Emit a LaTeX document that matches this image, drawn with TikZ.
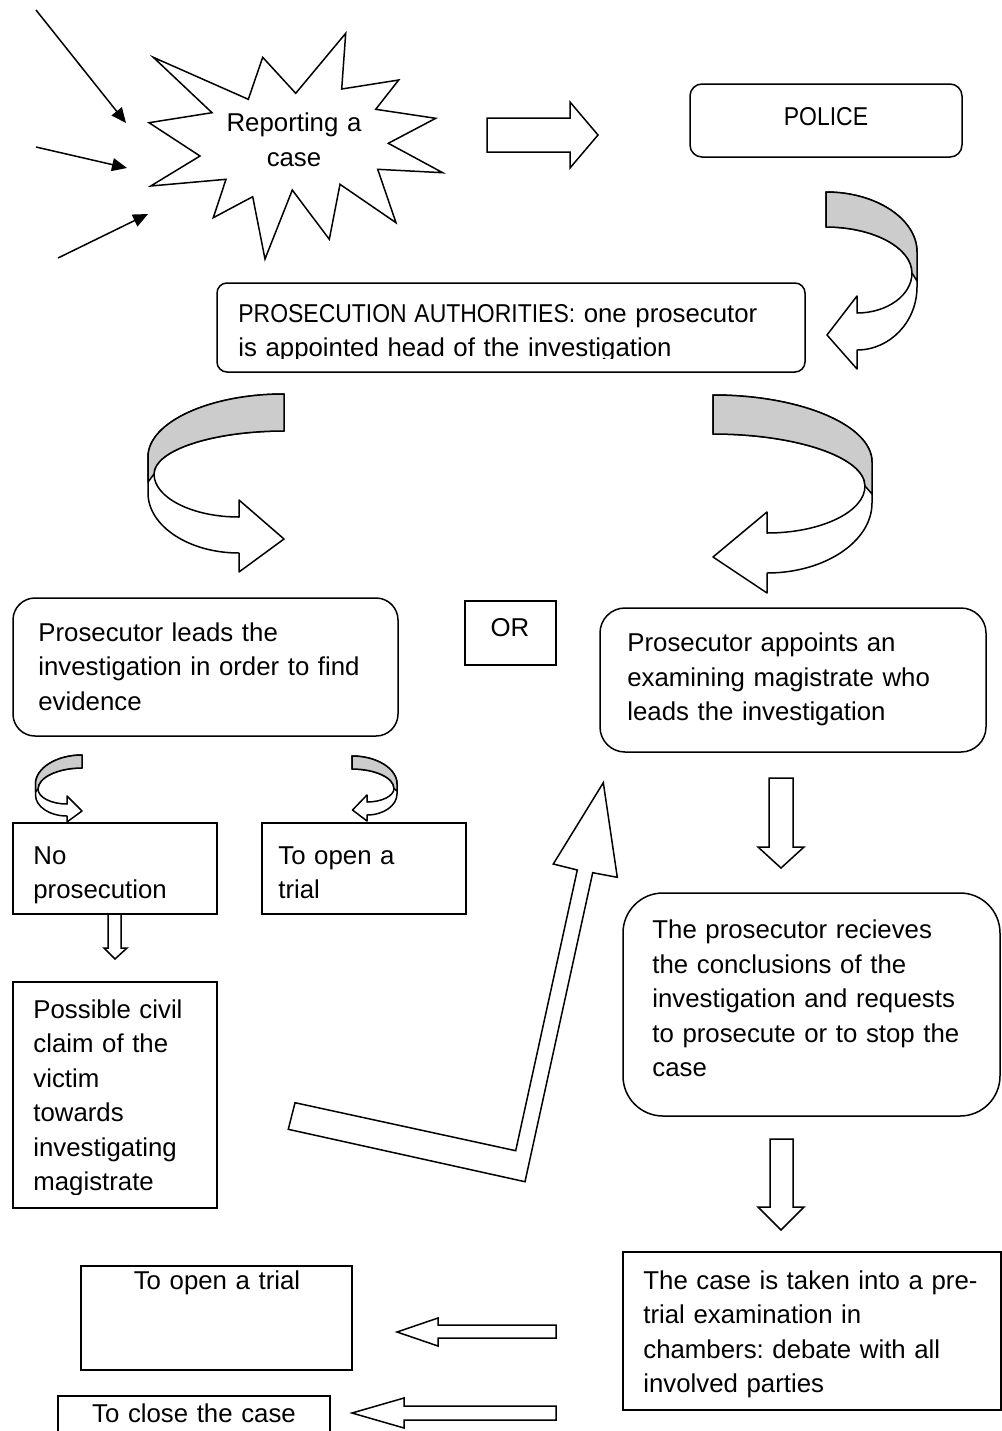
\documentclass[tikz,border=0pt]{standalone}
\usepackage{fontspec}
\usepackage{graphicx}
\setmainfont{Liberation Sans}
\frenchspacing
\usetikzlibrary{arrows.meta,fit,calc}
\definecolor{ribgray}{RGB}{204,204,204}
\newcommand\capsn[1]{\scalebox{0.89}[1]{#1}}
\tikzset{
  every node/.style={font=\fontsize{12.9pt}{17.25pt}\selectfont},
  sqbox/.style={draw=black, line width=0.75pt, inner sep=0pt},
  rbox/.style={sqbox, rounded corners=#1},
  txt/.style={inner sep=0pt, anchor=base west, align=left, text width=#1},
  ctxt/.style={inner sep=0pt, anchor=base, align=center, text width=#1},
  shapeline/.style={draw=black, line width=0.75pt, line join=miter, fill=white},
  thinarrow/.style={line width=0.75pt, -{Triangle[length=7.5pt,width=6.5pt]}},
  ribline/.style={draw=black, line width=0.75pt, line join=round},
}
\newcommand\ribbonarrow[1]{%
  \filldraw[ribline, fill=white]
    (#1A) .. controls ($(#1A)!0.55!(#1C |- #1A)$) and ($(#1C)!0.55!(#1C |- #1A)$) .. (#1C)
    -- (#1D) .. controls ($(#1D)!0.55!(#1D |- #1J)$) and ($(#1J)!0.55!(#1D |- #1J)$) .. (#1J)
    -- (#1I) -- (#1H) -- (#1G) -- (#1F)
    .. controls ($(#1F)!0.55!(#1E |- #1F)$) and ($(#1E)!0.55!(#1E |- #1F)$) .. (#1E)
    .. controls ($(#1E)!0.55!(#1E |- #1B)$) and ($(#1B)!0.55!(#1E |- #1B)$) .. (#1B)
    -- cycle;
  \filldraw[ribline, fill=ribgray]
    (#1A) .. controls ($(#1A)!0.55!(#1C |- #1A)$) and ($(#1C)!0.55!(#1C |- #1A)$) .. (#1C)
    -- (#1K) -- (#1E)
    .. controls ($(#1E)!0.55!(#1E |- #1B)$) and ($(#1B)!0.55!(#1E |- #1B)$) .. (#1B)
    -- cycle;
}
\begin{document}
\begin{tikzpicture}[x=0.5pt,y=-0.5pt]
\useasboundingbox (0,0) rectangle (1002,1431);

% ---------- incoming thin arrows ----------
\coordinate (in1s) at (36,10);   \coordinate (in1e) at (126,123);
\coordinate (in2s) at (36,147);  \coordinate (in2e) at (127,168);
\coordinate (in3s) at (58,258);  \coordinate (in3e) at (148,214);
\draw[thinarrow] (in1s) -- (in1e);
\draw[thinarrow] (in2s) -- (in2e);
\draw[thinarrow] (in3s) -- (in3e);

% ---------- explosion ----------
\path[shapeline] (153.3,57.3) -- (248.3,99.3) -- (262.7,57.3) -- (295.7,93.3) -- (345.7,33.3)
  -- (341.7,89) -- (398.7,80) -- (375.7,109.3) -- (435.7,118.3) -- (388.3,143.3)
  -- (442.7,172.7) -- (377.7,169.3) -- (396,222.7) -- (340,184.3) -- (329.3,239.3)
  -- (292.3,190) -- (265,259) -- (252.7,196.7) -- (213.3,217.7) -- (226,179.3)
  -- (150.7,186) -- (200,156) -- (149,122.7) -- (212,112.7) -- cycle;
\node[ctxt=80pt] (report) at (294,131.7) {Reporting a\\case};

% ---------- block arrow to police ----------
\path[shapeline] (487,118) -- (570,118) -- (570,102) -- (598,135) -- (570,168) -- (570,152) -- (487,152) -- cycle;

% ---------- boxes ----------
\node[rbox=6pt, fit={(690,84) (962,157)}] (police) {};
\node[rbox=5pt, fit={(217,283) (805,372)}] (pros) {};
\node[rbox=11pt, fit={(13,598) (398,736)}] (leads) {};
\node[sqbox, fit={(465,601) (556,665)}] (orbox) {};
\node[rbox=12.5pt, fit={(600,608) (986,752)}] (appoints) {};
\node[sqbox, fit={(13,823) (217,914)}] (nopros) {};
\node[sqbox, fit={(262,823) (466,914)}] (opentrialA) {};
\node[rbox=20pt, fit={(623,893) (1000,1116)}] (receives) {};
\node[sqbox, fit={(13,982) (217,1208)}] (civil) {};
\node[sqbox, fit={(623,1252) (1001,1410)}] (chambers) {};
\node[sqbox, fit={(81,1266) (352,1370)}] (opentrialB) {};
\node[sqbox, fit={(58,1396) (330,1450)}] (closecase) {};

% ---------- texts ----------
\node[ctxt=80pt] (policeT) at (826,125) {\capsn{POLICE}};
\begin{scope}
  \clip (217,283) rectangle (805,358);
  \node[txt=290pt] (prosT) at (238,322) {\capsn{PROSECUTION AUTHORITIES:} one prosecutor\\is appointed head of the investigation};
\end{scope}
\node[txt=180pt] (leadsT) at (38,641) {Prosecutor leads the\\investigation in order to find\\evidence};
\node[ctxt=40pt] (orT) at (510,636) {OR};
\node[txt=180pt] (appointsT) at (627,651.5) {Prosecutor appoints an\\examining magistrate who\\leads the investigation};
\node[txt=95pt] (noprosT) at (33,864) {No\\prosecution};
\node[txt=95pt] (opentrialAT) at (278,864) {To open a\\trial};
\node[txt=170pt] (receivesT) at (652,938.5) {The prosecutor recieves\\the conclusions of the\\investigation and requests\\to prosecute or to stop the\\case};
\begin{scope}
  \clip (13,982) rectangle (217,1194);
  \node[txt=95pt] (civilT) at (33,1018) {Possible civil\\claim of the\\victim\\towards\\investigating\\magistrate};
\end{scope}
\node[txt=175pt] (chambersT) at (643,1289) {The case is taken into a pre-\\trial examination in\\chambers: debate with all\\involved parties};
\node[ctxt=120pt] (opentrialBT) at (217,1289) {To open a trial};
\node[ctxt=130pt] (closecaseT) at (194,1422) {To close the case};

% ---------- curved ribbon arrows ----------
% police -> prosecution
\coordinate (rpA) at (826,192); \coordinate (rpB) at (826,227); \coordinate (rpC) at (917,252);
\coordinate (rpD) at (917,287); \coordinate (rpE) at (912,273); \coordinate (rpK) at (917,281);
\coordinate (rpF) at (857,313); \coordinate (rpG) at (857,296); \coordinate (rpH) at (827,335);
\coordinate (rpI) at (857,369); \coordinate (rpJ) at (857,350);
\ribbonarrow{rp}
% prosecution -> leads (left)
\coordinate (rlA) at (284,394); \coordinate (rlB) at (284,431); \coordinate (rlC) at (148,457);
\coordinate (rlD) at (148,493); \coordinate (rlE) at (154,474); \coordinate (rlK) at (148,482);
\coordinate (rlF) at (239,517); \coordinate (rlG) at (239,500); \coordinate (rlH) at (284,539);
\coordinate (rlI) at (239,572); \coordinate (rlJ) at (239,553);
\ribbonarrow{rl}
% prosecution -> appoints (right)
\coordinate (rrA) at (713,395); \coordinate (rrB) at (713,434); \coordinate (rrC) at (872,462);
\coordinate (rrD) at (872,503); \coordinate (rrE) at (865,486); \coordinate (rrK) at (872,494);
\coordinate (rrF) at (767,533); \coordinate (rrG) at (767,512); \coordinate (rrH) at (713,557);
\coordinate (rrI) at (767,593); \coordinate (rrJ) at (767,573);
\ribbonarrow{rr}
% leads -> no prosecution
\coordinate (rnA) at (82,755); \coordinate (rnB) at (82,768); \coordinate (rnC) at (35.5,784);
\coordinate (rnD) at (35.5,795); \coordinate (rnE) at (38,789); \coordinate (rnK) at (35.5,792);
\coordinate (rnF) at (67,804); \coordinate (rnG) at (67,796); \coordinate (rnH) at (82,811);
\coordinate (rnI) at (67,822); \coordinate (rnJ) at (67,816);
\ribbonarrow{rn}
% leads -> to open a trial
\coordinate (roA) at (352,756); \coordinate (roB) at (352,769); \coordinate (roC) at (397,784);
\coordinate (roD) at (397,794); \coordinate (roE) at (394,788.5); \coordinate (roK) at (397,791);
\coordinate (roF) at (367,802); \coordinate (roG) at (367,795); \coordinate (roH) at (352.5,810);
\coordinate (roI) at (367,821); \coordinate (roJ) at (367,815);
\ribbonarrow{ro}

% ---------- straight block arrows ----------
\path[shapeline] (769,778) -- (793,778) -- (793,847) -- (804,847) -- (781,868) -- (758,847) -- (769,847) -- cycle;
\path[shapeline] (770,1139) -- (793,1139) -- (793,1207) -- (804,1207) -- (781,1230) -- (758,1207) -- (770,1207) -- cycle;
\path[shapeline] (108,914) -- (121,914) -- (121,948) -- (127,948) -- (115,959) -- (104,948) -- (108,948) -- cycle;
\path[shapeline] (556,1325) -- (438,1325) -- (438,1318) -- (397,1332) -- (438,1346) -- (438,1338) -- (556,1338) -- cycle;
\path[shapeline] (556,1406) -- (404,1406) -- (404,1398) -- (352,1413) -- (404,1428) -- (404,1420) -- (556,1420) -- cycle;

% ---------- bent arrow back up ----------
\path[shapeline] (295,1102.7) -- (515.7,1150.7) -- (577.3,870) -- (553.3,864) -- (603.3,782.7)
  -- (617.3,877.3) -- (592.7,872.7) -- (525,1181.7) -- (288.3,1129.3) -- cycle;

\end{tikzpicture}
\end{document}
